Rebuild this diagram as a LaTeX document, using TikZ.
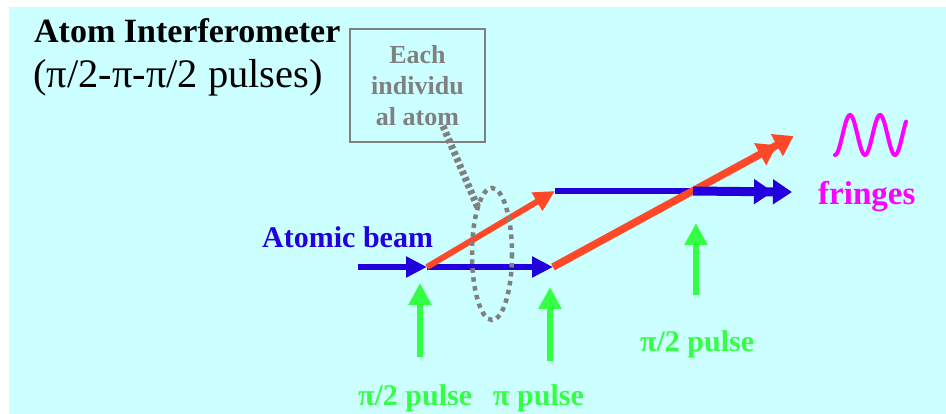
\documentclass[tikz,border=0pt]{standalone}
\usepackage{fontspec}
\setmainfont{Liberation Serif}
\usetikzlibrary{arrows.meta}
\definecolor{bgc}{RGB}{204,255,255}
\definecolor{beamblue}{RGB}{34,0,221}
\definecolor{redarm}{RGB}{255,72,40}
\definecolor{pulsegreen}{RGB}{51,255,68}
\definecolor{fringemag}{RGB}{255,0,255}
\definecolor{boxgray}{RGB}{128,128,128}
\tikzset{
  bluearrow/.style={draw=beamblue, line width=6.5pt, -{Triangle[length=21pt,width=20pt]}},
  blueline/.style={draw=beamblue, line width=6.5pt},
  bluebig/.style={draw=beamblue, line width=9pt, -{Triangle[length=19pt,width=24pt] Triangle[length=19pt,width=24pt,sep=-4pt]}},
  redarrow/.style={draw=redarm, line width=6pt, -{Triangle[length=21pt,width=20pt]}},
  redbig/.style={draw=redarm, line width=7.5pt, -{Triangle[length=19pt,width=24pt] Triangle[length=19pt,width=24pt,sep=-4pt]}},
  greenarrow/.style={draw=pulsegreen, line width=6.5pt, -{Triangle[length=22pt,width=22pt]}},
  greenlabel/.style={text=pulsegreen, font=\bfseries\fontsize{30}{34}\selectfont, anchor=base west, inner sep=0pt},
  graydots/.style={draw=boxgray, line width=4.5pt, dash pattern=on 4.5pt off 4.5pt},
  graylead/.style={draw=boxgray, line width=7pt, dash pattern=on 4pt off 3pt},
  txt/.style={anchor=base west, inner sep=0pt},
}
\begin{document}
\begin{tikzpicture}[x=1pt,y=-1pt]
\useasboundingbox (0,0) rectangle (946,414);
\fill[bgc] (9,7) rectangle (946,414);

% titles
\node[txt, font=\bfseries\fontsize{34}{40}\selectfont] (title) at (34,43) {Atom Interferometer};
\node[txt, font=\fontsize{40.5}{46}\selectfont] (subtitle) at (33,88) {(π/2-π-π/2 pulses)};

% callout box
\node[draw=boxgray, line width=1.5pt, minimum width=135pt, minimum height=113pt, inner sep=0pt,
      text=boxgray, align=center, font=\bfseries\fontsize{26}{31}\selectfont] (box) at (417.5,85.5) {Each\\individu\\al atom};

% coordinates
\coordinate (src) at (358,267);
\coordinate (A) at (427,267);
\coordinate (B) at (553,267);
\coordinate (C) at (555,191);
\coordinate (D) at (693,191);
\coordinate (E) at (788,192);
\coordinate (R) at (790,138);
\coordinate (g1a) at (420,357); \coordinate (g1b) at (420,283);
\coordinate (g2a) at (550,361); \coordinate (g2b) at (550,287);
\coordinate (g3a) at (696,295); \coordinate (g3b) at (696,223);
\coordinate (lead1) at (443,126);
\coordinate (lead2) at (478,208);

% beams
\draw[bluearrow] (src) -- (A);
\draw[bluearrow] (A) -- (B);
\draw[redarrow] (A) -- (C);
\draw[blueline] (C) -- (D);
\draw[redbig] (B) -- (R);
\draw[bluebig] (D) -- (E);

% pulses
\draw[greenarrow] (g1a) -- (g1b);
\draw[greenarrow] (g2a) -- (g2b);
\draw[greenarrow] (g3a) -- (g3b);

% callout leader and ellipse
\draw[graylead] (lead1) -- (lead2);
\draw[graydots] (492,254) ellipse [x radius=20, y radius=66];

% labels
\node[txt, text=beamblue, font=\bfseries\fontsize{30}{34}\selectfont] (beam) at (262,248) {Atomic beam};
\node[greenlabel] (p1) at (358,405) {π/2 pulse};
\node[greenlabel] (p2) at (493,405) {π pulse};
\node[greenlabel] (p3) at (640,352) {π/2 pulse};
\node[txt, text=fringemag, font=\bfseries\fontsize{33}{38}\selectfont] (fr) at (818,205) {fringes};

% fringe wave
\draw[fringemag, line width=4pt, line cap=round, line join=round]
  plot[domain=0:71, samples=90, smooth] ({835+\x},{135+20*cos(12*\x)});
\end{tikzpicture}
\end{document}
